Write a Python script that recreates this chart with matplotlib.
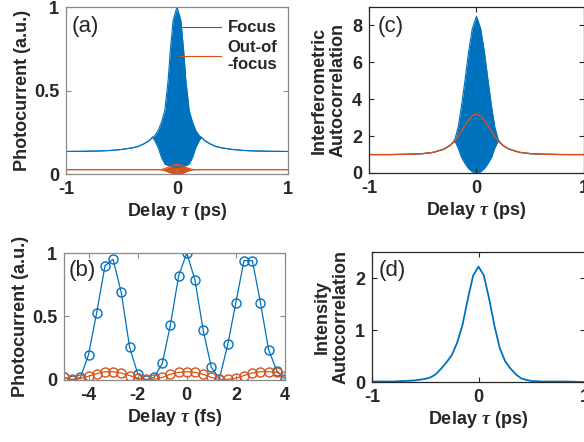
import matplotlib
matplotlib.use("Agg")
import matplotlib.pyplot as plt

plt.rcParams['font.family'] = ['Liberation Sans', 'DejaVu Sans']
plt.rcParams['axes.unicode_minus'] = False
plt.rcParams['mathtext.fontset'] = 'custom'
plt.rcParams['mathtext.it'] = 'Liberation Serif:bold:italic'
plt.rcParams['mathtext.rm'] = 'Liberation Sans:bold'

BLUE = '#0072BD'
ORANGE = '#D95319'
TXT = '#262626'

# ---------------- data ----------------
# (a) photocurrent vs delay (ps): envelopes of the fringe-resolved trace
a_delay = [-1.0, -0.85, -0.7, -0.6, -0.5, -0.4, -0.35, -0.3, -0.25, -0.22, -0.2, -0.17, -0.14,
           -0.11, -0.08, -0.06, -0.035, 0.0, 0.035, 0.06, 0.08, 0.11, 0.14, 0.17, 0.2, 0.22,
           0.25, 0.3, 0.35, 0.4, 0.5, 0.6, 0.7, 0.85, 1.0]
a_focus_hi = [0.135, 0.136, 0.138, 0.141, 0.147, 0.157, 0.165, 0.18, 0.2, 0.22, 0.23, 0.26, 0.31,
              0.38, 0.56, 0.74, 0.92, 1.0, 0.92, 0.74, 0.56, 0.38, 0.31, 0.26, 0.23, 0.22,
              0.2, 0.18, 0.165, 0.157, 0.147, 0.141, 0.138, 0.136, 0.135]
a_focus_lo = [0.135, 0.136, 0.138, 0.141, 0.147, 0.157, 0.165, 0.18, 0.2, 0.22, 0.2, 0.16, 0.10,
              0.06, 0.05, 0.05, 0.045, 0.04, 0.045, 0.05, 0.05, 0.06, 0.10, 0.16, 0.2, 0.22,
              0.2, 0.18, 0.165, 0.157, 0.147, 0.141, 0.138, 0.136, 0.135]
a_out_hi = [0.026, 0.026, 0.026, 0.026, 0.026, 0.026, 0.026, 0.026, 0.026, 0.026, 0.026, 0.026, 0.027,
            0.033, 0.04, 0.047, 0.054, 0.06, 0.054, 0.047, 0.04, 0.033, 0.027, 0.026, 0.026, 0.026,
            0.026, 0.026, 0.026, 0.026, 0.026, 0.026, 0.026, 0.026, 0.026]
a_out_lo = [0.026, 0.026, 0.026, 0.026, 0.026, 0.026, 0.026, 0.026, 0.026, 0.026, 0.026, 0.026, 0.025,
            0.02, 0.012, 0.007, 0.003, 0.0, 0.003, 0.007, 0.012, 0.02, 0.025, 0.026, 0.026, 0.026,
            0.026, 0.026, 0.026, 0.026, 0.026, 0.026, 0.026, 0.026, 0.026]

# (b) photocurrent vs delay (fs)
b_delay = [-5.0, -4.67, -4.33, -4.0, -3.67, -3.33, -3.0, -2.67, -2.33, -2.0, -1.67, -1.33, -1.0, -0.67,
           -0.33, 0.0, 0.33, 0.67, 1.0, 1.33, 1.67, 2.0, 2.33, 2.67, 3.0, 3.33, 3.67, 4.0]
b_focus = [0.02, 0.0, 0.02, 0.20, 0.53, 0.90, 0.95, 0.69, 0.26, 0.05, 0.0, 0.02, 0.13, 0.43,
           0.82, 1.0, 0.79, 0.39, 0.10, 0.01, 0.28, 0.61, 0.94, 0.94, 0.61, 0.24, 0.07, 0.01]
b_out = [0.02, 0.005, 0.01, 0.03, 0.05, 0.065, 0.065, 0.055, 0.035, 0.015, 0.005, 0.005, 0.02, 0.045,
         0.06, 0.065, 0.06, 0.045, 0.02, 0.005, 0.005, 0.015, 0.035, 0.055, 0.065, 0.065, 0.06, 0.03]

# (c) interferometric autocorrelation
c_delay = [-1.0, -0.8, -0.6, -0.5, -0.4, -0.3, -0.25, -0.22, -0.2, -0.17, -0.14, -0.11, -0.075, -0.04,
           0.0, 0.04, 0.075, 0.11, 0.14, 0.17, 0.2, 0.22, 0.25, 0.3, 0.4, 0.5, 0.6, 0.8, 1.0]
c_hi = [1.0, 1.0, 1.02, 1.05, 1.12, 1.3, 1.48, 1.65, 1.85, 2.5, 3.6, 4.9, 6.5, 7.8,
        8.5, 7.8, 6.5, 4.9, 3.6, 2.5, 1.85, 1.65, 1.48, 1.3, 1.12, 1.05, 1.02, 1.0, 1.0]
c_lo = [1.0, 1.0, 1.02, 1.05, 1.12, 1.3, 1.48, 1.65, 1.72, 1.35, 0.85, 0.55, 0.25, 0.07,
        0.0, 0.07, 0.25, 0.55, 0.85, 1.35, 1.72, 1.65, 1.48, 1.3, 1.12, 1.05, 1.02, 1.0, 1.0]
c_smooth = [1.0, 1.0, 1.02, 1.05, 1.12, 1.3, 1.48, 1.62, 1.75, 1.98, 2.25, 2.55, 2.85, 3.1,
            3.2, 3.1, 2.85, 2.55, 2.25, 1.98, 1.75, 1.62, 1.48, 1.3, 1.12, 1.05, 1.02, 1.0, 1.0]

# (d) intensity autocorrelation
d_delay = [-1.0, -0.8, -0.7, -0.6, -0.5, -0.45, -0.4, -0.35, -0.3, -0.25, -0.2, -0.15, -0.1, -0.05,
           0.0, 0.05, 0.1, 0.15, 0.2, 0.25, 0.3, 0.35, 0.4, 0.45, 0.5, 0.6, 0.8, 1.0]
d_vals = [0.01, 0.01, 0.02, 0.03, 0.06, 0.09, 0.15, 0.26, 0.38, 0.52, 0.76, 1.1, 1.6, 2.05,
          2.22, 2.05, 1.6, 1.08, 0.65, 0.4, 0.26, 0.15, 0.07, 0.04, 0.02, 0.01, 0.01, 0.0]

# ---------------- figure ----------------
fig = plt.figure(figsize=(5.84, 4.42), dpi=100)
FS = 13
PFS = 16

def style(ax, edge):
    for s in ax.spines.values():
        s.set_color(edge)
        s.set_linewidth(0.9)
    ax.tick_params(direction='in', top=True, right=True, length=3.5, width=0.8,
                   color=edge, labelsize=FS, labelcolor=TXT, pad=5)
    for lab in ax.get_xticklabels() + ax.get_yticklabels():
        lab.set_fontweight('bold')

xlabel_ps = r'Delay $\tau$ (ps)'

# (a)
axa = fig.add_axes([0.113, 0.6063, 0.3801, 0.3778])
axa.fill_between(a_delay, a_focus_lo, a_focus_hi, color=BLUE, lw=0)
axa.plot(a_delay, a_focus_hi, color=BLUE, lw=0.8, label='Focus')
axa.plot(a_delay, a_focus_lo, color=BLUE, lw=0.8)
axa.fill_between(a_delay, a_out_lo, a_out_hi, color=ORANGE, lw=0)
axa.plot(a_delay, a_out_hi, color=ORANGE, lw=0.8, label='Out-of\n-focus')
axa.plot(a_delay, a_out_lo, color=ORANGE, lw=0.8)
axa.set_xlim(-1, 1)
axa.set_ylim(0, 1)
axa.set_xticks([-1, 0, 1])
axa.set_yticks([0, 0.5, 1])
axa.set_yticklabels(['0', '0.5', '1'])
style(axa, '#8a8a8a')
axa.set_ylabel('Photocurrent (a.u.)', fontsize=FS, fontweight='bold', color=TXT, labelpad=2)
axa.set_xlabel(xlabel_ps, fontsize=FS, fontweight='bold', color=TXT, labelpad=2)
axa.text(0.027, 0.885, '(a)', transform=axa.transAxes, fontsize=PFS, color=TXT, va='center')
leg = axa.legend(loc='upper left', bbox_to_anchor=(0.51, 0.92), frameon=False,
                 handlelength=2.5, handletextpad=0.4, labelspacing=0.25, borderpad=0,
                 borderaxespad=0, prop={'weight': 'bold', 'size': 12})
for t in leg.get_texts():
    t.set_color(TXT)

# (c)
axc = fig.add_axes([0.6318, 0.6086, 0.3682, 0.3756])
axc.fill_between(c_delay, c_lo, c_hi, color=BLUE, lw=0)
axc.plot(c_delay, c_hi, color=BLUE, lw=0.8)
axc.plot(c_delay, c_lo, color=BLUE, lw=0.8)
axc.plot(c_delay, c_smooth, color=ORANGE, lw=1.0)
axc.set_xlim(-1, 1)
axc.set_ylim(0, 9)
axc.set_xticks([-1, 0, 1])
axc.set_yticks([0, 2, 4, 6, 8])
style(axc, TXT)
axc.set_ylabel('Interferometric\nAutocorrelation', fontsize=FS, fontweight='bold', color=TXT,
               labelpad=4, linespacing=1.1)
axc.set_xlabel(xlabel_ps, fontsize=FS, fontweight='bold', color=TXT, labelpad=2)
axc.text(0.04, 0.885, '(c)', transform=axc.transAxes, fontsize=PFS, color=TXT, va='center')

# (b)
axb = fig.add_axes([0.1096, 0.1403, 0.3784, 0.2873])
axb.plot(b_delay, b_focus, color=BLUE, lw=0.9, marker='o', mfc='none', mec=BLUE, ms=6.5, mew=1.0)
axb.plot(b_delay, b_out, color=ORANGE, lw=0.9, marker='o', mfc='none', mec=ORANGE, ms=6.5, mew=1.0)
axb.set_xlim(-5, 4)
axb.set_ylim(0, 1)
axb.set_xticks([-4, -2, 0, 2, 4])
axb.set_yticks([0, 0.5, 1])
axb.set_yticklabels(['0', '0.5', '1'])
style(axb, '#8a8a8a')
axb.set_ylabel('Photocurrent (a.u.)', fontsize=FS, fontweight='bold', color=TXT, labelpad=2)
axb.set_xlabel(r'Delay $\tau$ (fs)', fontsize=FS, fontweight='bold', color=TXT, labelpad=2)
axb.text(0.02, 0.86, '(b)', transform=axb.transAxes, fontsize=PFS, color=TXT, va='center')

# (d)
axd = fig.add_axes([0.637, 0.1357, 0.3647, 0.2941])
axd.plot(d_delay, d_vals, color=BLUE, lw=1.3)
axd.set_xlim(-1, 1)
axd.set_ylim(0, 2.5)
axd.set_xticks([-1, 0, 1])
axd.set_yticks([0, 1, 2])
style(axd, TXT)
axd.set_ylabel('Intensity\nAutocorrelation', fontsize=FS, fontweight='bold', color=TXT,
               labelpad=4, linespacing=1.1)
axd.set_xlabel(xlabel_ps, fontsize=FS, fontweight='bold', color=TXT, labelpad=2)
axd.text(0.03, 0.86, '(d)', transform=axd.transAxes, fontsize=PFS, color=TXT, va='center')

fig.savefig('out.png', dpi=100)
